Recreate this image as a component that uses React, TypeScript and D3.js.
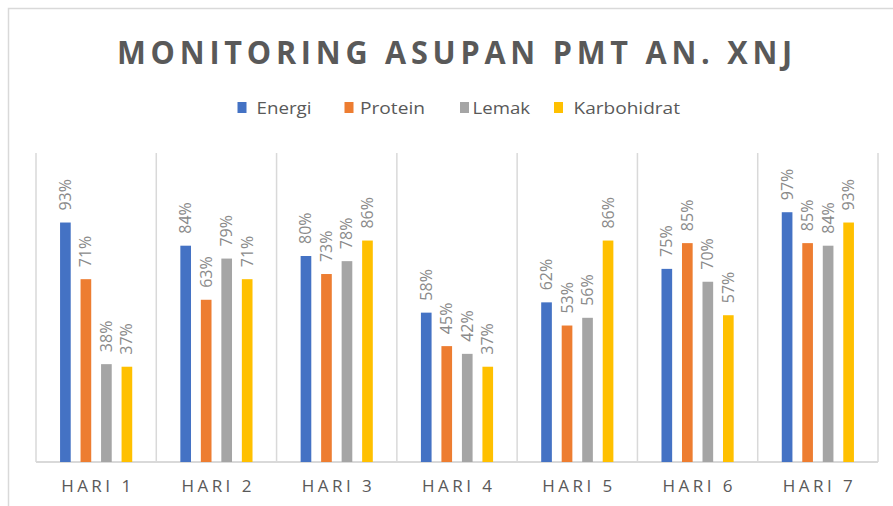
import React from "react";
import * as d3 from "d3";

const categories = ["HARI 1", "HARI 2", "HARI 3", "HARI 4", "HARI 5", "HARI 6", "HARI 7"];
const seriesNames = ["Energi", "Protein", "Lemak", "Karbohidrat"];
const seriesColors = ["#4472c4", "#ed7d31", "#a5a5a5", "#ffc000"];
const energi = [0.93, 0.84, 0.8, 0.58, 0.62, 0.75, 0.97];
const protein = [0.71, 0.63, 0.73, 0.45, 0.53, 0.85, 0.85];
const lemak = [0.38, 0.79, 0.78, 0.42, 0.56, 0.7, 0.84];
const karbohidrat = [0.37, 0.71, 0.86, 0.37, 0.86, 0.57, 0.93];
const seriesValues = [energi, protein, lemak, karbohidrat];
const yMax = 1.2;

const W = 893;
const H = 506;
const plot = { left: 36, right: 878, top: 153, bottom: 462 };

const legendItems = [
  { sq: 237.5, tx: 256.5, tw: 55 },
  { sq: 344.5, tx: 360, tw: 65 },
  { sq: 460, tx: 472.5, tw: 57.5 },
  { sq: 554, tx: 573.5, tw: 106.5 },
];

export default function App() {
  const x0 = d3.scaleBand<string>().domain(categories).range([plot.left, plot.right]).paddingInner(0).paddingOuter(0);
  const bw = x0.bandwidth();
  const x1 = d3
    .scaleBand<string>()
    .domain(seriesNames)
    .range([bw * 0.2, bw * 0.8])
    .paddingInner(0.48)
    .paddingOuter(0);
  const y = d3.scaleLinear().domain([0, yMax]).range([plot.bottom, plot.top]);
  const fmt = d3.format(".0%");
  const font = "'Open Sans', sans-serif";
  const boundaries = categories.map((c) => x0(c) as number).concat([plot.right]);

  return (
    <svg
      width={W}
      height={H}
      style={{ position: "absolute", left: 0, top: 0, background: "#fff" }}
      fontFamily={font}
    >
      <rect x={0} y={0} width={W} height={H} fill="#fff" />
      <rect x={8.5} y={8.5} width={W + 10} height={H + 10} fill="none" stroke="#d9d9d9" strokeWidth={1.5} />
      <text
        x={117}
        y={64}
        fontSize={32}
        fontWeight="bold"
        fill="#595959"
        letterSpacing={5}
        textLength={680}
        lengthAdjust="spacingAndGlyphs"
      >
        MONITORING  ASUPAN PMT AN. XNJ
      </text>
      {seriesNames.map((s, i) => (
        <g key={s}>
          <rect x={legendItems[i].sq} y={102} width={9} height={11} fill={seriesColors[i]} />
          <text
            x={legendItems[i].tx}
            y={113.5}
            fontSize={17}
            fill="#595959"
            textLength={legendItems[i].tw}
            lengthAdjust="spacingAndGlyphs"
          >
            {s}
          </text>
        </g>
      ))}
      {boundaries.map((b, i) => (
        <line key={i} x1={b} x2={b} y1={plot.top} y2={plot.bottom} stroke="#d9d9d9" strokeWidth={1.5} />
      ))}
      <line x1={plot.left} x2={plot.right} y1={plot.bottom} y2={plot.bottom} stroke="#d9d9d9" strokeWidth={2} />
      {categories.map((c, ci) => (
        <g key={c} transform={`translate(${x0(c)},0)`}>
          {seriesNames.map((s, si) => {
            const v = seriesValues[si][ci];
            const bx = x1(s) as number;
            const top = y(v);
            const cx = bx + x1.bandwidth() / 2;
            return (
              <g key={s}>
                <rect x={bx} y={top} width={x1.bandwidth()} height={plot.bottom - top} fill={seriesColors[si]} />
                <text
                  transform={`translate(${cx + 5.5},${top - 12}) rotate(-90)`}
                  fontSize={16}
                  fill="#8a8a8a"
                >
                  {fmt(v)}
                </text>
              </g>
            );
          })}
          <text
            x={bw / 2}
            y={492}
            fontSize={17}
            fill="#595959"
            textAnchor="middle"
            textLength={70}
            lengthAdjust="spacing"
          >
            {c}
          </text>
        </g>
      ))}
    </svg>
  );
}
